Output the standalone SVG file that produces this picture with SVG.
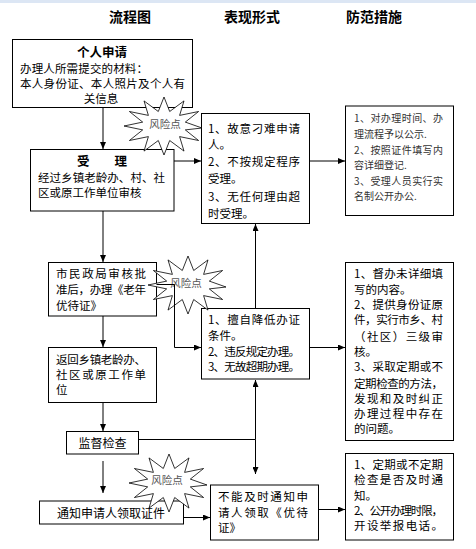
<svg xmlns="http://www.w3.org/2000/svg" width="476" height="549" viewBox="0 0 476 549">
<style>
.box{fill:#fff;stroke:#000;stroke-width:1}
.star{fill:#fff;stroke:#000;stroke-width:0.8}
.ln{fill:none;stroke:#000;stroke-width:1}
text{font-family:"Noto Sans CJK SC","Noto Sans",sans-serif;fill:#000}
.h{font-size:14px;font-weight:bold;text-anchor:middle}
.t{font-size:11.5px}
.b{font-size:12.5px;font-weight:bold;text-anchor:middle}
.s{font-size:10px;fill:#333}
.r{font-size:10.5px;fill:#555;text-anchor:middle}
.c{text-anchor:middle}
</style>
<defs>
<marker id="ah" markerWidth="7" markerHeight="6" refX="7" refY="3" orient="auto" markerUnits="userSpaceOnUse">
<path d="M0,0 L7,3 L0,6 Z" fill="#000"/>
</marker>
<path id="star" d="M38,2 L21.3,3.9 L34.6,14.5 L15.6,10.6 L20,25.1 L5.7,14.5 L0,29 L-5.7,14.5 L-20,25.1 L-15.6,10.6 L-34.6,14.5 L-21.3,3.9 L-40,0 L-21.3,-3.9 L-34.6,-14.5 L-15.6,-10.6 L-20,-25.1 L-5.7,-14.5 L0,-29 L5.7,-14.5 L20,-25.1 L15.6,-10.6 L34.6,-14.5 L21.3,-3.9 Z"/>
</defs>
<rect x="0" y="0" width="476" height="549" fill="#fff"/>
<rect x="0" y="0" width="476" height="3" fill="#dce6f4"/>
<g id="headers">
<text class="h" x="130" y="22">流程图</text>
<text class="h" x="252" y="22">表现形式</text>
<text class="h" x="374" y="22">防范措施</text>
</g>
<g id="n1">
<rect class="box" x="12.5" y="39.5" width="180" height="68"/>
<text class="b" x="102" y="56.5">个人申请</text>
<text class="t" x="20" y="72.5" textLength="128">办理人所需提交的材料：</text>
<text class="t" x="20" y="87.5" textLength="165">本人身份证、本人照片及个人有</text>
<text class="t c" x="101" y="102.5">关信息</text>
</g>
<g id="n2">
<rect class="box" x="30.5" y="149.5" width="143.5" height="61.5"/>
<text class="b" x="102" y="165.5">受　　理</text>
<text class="t" x="38" y="182" textLength="127">经过乡镇老龄办、村、社</text>
<text class="t" x="38" y="197">区或原工作单位审核</text>
</g>
<g id="n3">
<rect class="box" x="201.5" y="113.5" width="108" height="110"/>
<text class="t" x="208" y="132.7" textLength="92">1、故意刁难申请</text>
<text class="t" x="208" y="149.4">人。</text>
<text class="t" x="208" y="166" textLength="92">2、不按规定程序</text>
<text class="t" x="208" y="183.4">受理。</text>
<text class="t" x="208" y="201" textLength="92">3、无任何理由超</text>
<text class="t" x="208" y="217.7">时受理。</text>
</g>
<g id="n4">
<rect class="box" x="345.5" y="106" width="108" height="109.5"/>
<text class="s" x="354" y="122" textLength="89">1、对办理时间、办</text>
<text class="s" x="354" y="138">理流程予以公示.</text>
<text class="s" x="354" y="154" textLength="89">2、按照证件填写内</text>
<text class="s" x="354" y="169">容详细登记.</text>
<text class="s" x="354" y="185" textLength="89">3、受理人员实行实</text>
<text class="s" x="354" y="200">名制公开办公.</text>
</g>
<g id="n5">
<rect class="box" x="48.5" y="262.5" width="108" height="53.5"/>
<text class="t" x="56" y="278.3" textLength="90">市民政局审核批</text>
<text class="t" x="56" y="294" textLength="90">准后，办理《老年</text>
<text class="t" x="56" y="309.5">优待证》</text>
</g>
<g id="n6">
<rect class="box" x="201.5" y="308.5" width="108" height="70.5"/>
<text class="t" x="208" y="324.3" textLength="92">1、擅自降低办证</text>
<text class="t" x="208" y="340">条件。</text>
<text class="t" x="208" y="356" textLength="92">2、违反规定办理。</text>
<text class="t" x="208" y="371" textLength="92">3、无故超期办理。</text>
</g>
<g id="n7">
<rect class="box" x="345.5" y="262.5" width="108" height="178"/>
<text class="t" x="354" y="277.6" textLength="89">1、督办未详细填</text>
<text class="t" x="354" y="293.6">写的内容。</text>
<text class="t" x="354" y="309.3" textLength="89">2、提供身份证原</text>
<text class="t" x="354" y="324.3" textLength="89">件，实行市乡、村</text>
<text class="t" x="354" y="341" textLength="89">（社区）三级审</text>
<text class="t" x="354" y="356">核。</text>
<text class="t" x="354" y="371" textLength="89">3、采取定期或不</text>
<text class="t" x="354" y="387.6" textLength="89">定期检查的方法，</text>
<text class="t" x="354" y="402.6" textLength="89">发现和及时纠正</text>
<text class="t" x="354" y="417.6" textLength="89">办理过程中存在</text>
<text class="t" x="354" y="432.6">的问题。</text>
</g>
<g id="n8">
<rect class="box" x="48.5" y="347.5" width="108" height="55"/>
<text class="t" x="56" y="363.6" textLength="90">返回乡镇老龄办、</text>
<text class="t" x="56" y="379.3" textLength="90">社区或原工作单</text>
<text class="t" x="56" y="394.3">位</text>
</g>
<g id="n9">
<rect class="box" x="66.5" y="431.5" width="72" height="22.5"/>
<text class="t c" x="102.5" y="447.5" style="font-size:12px">监督检查</text>
</g>
<g id="n10">
<rect class="box" x="39.5" y="501" width="144" height="23"/>
<text class="t c" x="111" y="517.6" style="font-size:12px">通知申请人领取证件</text>
</g>
<g id="n11">
<rect class="box" x="210.5" y="485" width="108" height="55"/>
<text class="t" x="218" y="501" textLength="90">不能及时通知申</text>
<text class="t" x="218" y="516.5" textLength="90">请人领取《优待</text>
<text class="t" x="218" y="531.5">证》</text>
</g>
<g id="n12">
<rect class="box" x="345.5" y="453.5" width="108" height="86.5"/>
<text class="t" x="354" y="469.3" textLength="89">1、定期或不定期</text>
<text class="t" x="354" y="484.3" textLength="89">检查是否及时通</text>
<text class="t" x="354" y="500.3">知。</text>
<text class="t" x="354" y="515" textLength="89">2、公开办理时限，</text>
<text class="t" x="354" y="530.3" textLength="89">开设举报电话。</text>
</g>
<g id="risk1">
<use href="#star" class="star" transform="translate(164,126)"/>
<text class="r" x="165" y="128">风险点</text>
</g>
<g id="risk2">
<use href="#star" class="star" transform="translate(188,285)"/>
<text class="r" x="186" y="287">风险点</text>
</g>
<g id="risk3">
<use href="#star" class="star" transform="translate(169,483)"/>
<text class="r" x="167" y="484">风险点</text>
</g>
<g id="connectors">
<path class="ln" d="M103,107.5 V149" marker-end="url(#ah)"/>
<path class="ln" d="M174,161 H201" marker-end="url(#ah)"/>
<path class="ln" d="M309.5,161 H345" marker-end="url(#ah)"/>
<path class="ln" d="M255.5,308.5 V224" marker-end="url(#ah)"/>
<path class="ln" d="M103,211 V262" marker-end="url(#ah)"/>
<path class="ln" d="M156.5,284.5 H174.5 V347.5 H201" marker-end="url(#ah)"/>
<path class="ln" d="M309.5,347.5 H345" marker-end="url(#ah)"/>
<path class="ln" d="M103,316 V347" marker-end="url(#ah)"/>
<path class="ln" d="M103,402.5 V431" marker-end="url(#ah)"/>
<path class="ln" d="M103,461 V493" marker-end="url(#ah)"/>
<path class="ln" d="M138.5,439.5 H255.5"/>
<path class="ln" d="M255.5,439.5 V380" marker-end="url(#ah)"/>
<path class="ln" d="M255.5,439.5 V474" marker-end="url(#ah)"/>
<path class="ln" d="M183.5,517.5 H210" marker-end="url(#ah)"/>
<path class="ln" d="M318.5,509.5 H345" marker-end="url(#ah)"/>
</g>
</svg>
